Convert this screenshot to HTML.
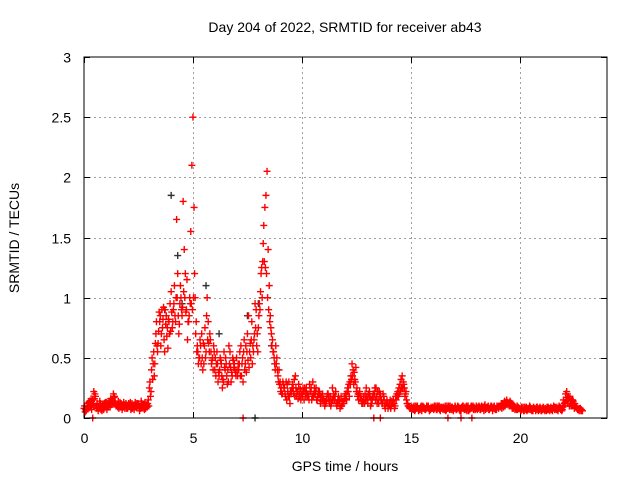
<!DOCTYPE html>
<html><head><meta charset="utf-8"><style>
html,body{margin:0;padding:0;background:#fff;}
svg{display:block;font-family:"Liberation Sans",sans-serif;}
</style></head><body>
<svg id="chart" width="640" height="480" viewBox="0 0 640 480">
<rect width="640" height="480" fill="#fff"/>
<text x="345" y="32" font-size="14" text-anchor="middle">Day 204 of 2022, SRMTID for receiver ab43</text>
<text x="345" y="471" font-size="14" text-anchor="middle">GPS time / hours</text>
<text transform="translate(19,238) rotate(-90)" font-size="14" text-anchor="middle">SRMTID / TECUs</text>
<g id="grid"></g><g id="ticks"></g><g id="marks"></g>
<rect x="84" y="57" width="523" height="361" fill="none" stroke="#000" stroke-width="1"/>
</svg>
<script>
const xTicks=[0,5,10,15,20];
const yTicks=[0,0.5,1,1.5,2,2.5,3];
const yTickLabels=["0","0.5","1","1.5","2","2.5","3"];
const step=0.1;
const redA=[
.08,.06,.10,.09,.15,.20,.12,.08,.10,.07,
.10,.12,.09,.15,.18,.10,.08,.12,.09,.10,
.08,.10,.12,.07,.09,.11,.08,.10,.13,.09,
.25,.40,.55,.70,.62,.85,.75,.55,.68,.80,
1.05,.90,.80,1.20,.95,.85,1.40,.90,.80,1.55,
2.50,1.00,.60,.50,.70,.45,.55,.80,.65,.50,
.40,.55,.35,.45,.30,.50,.40,.55,.35,.45,
.50,.40,.60,.30,.45,.70,.55,.80,.65,.90,
.75,1.05,1.30,1.75,2.05,1.10,.70,.55,.60,.35,
.30,.20,.25,.15,.30,.20,.25,.35,.22,.18,
.20,.15,.25,.18,.22,.30,.20,.15,.22,.18,
.15,.12,.20,.18,.25,.15,.10,.12,.18,.14,
.20,.25,.30,.45,.38,.22,.15,.18,.12,.20,
.15,.22,.12,.18,.25,.15,.20,.12,.10,.15,
.12,.10,.15,.18,.22,.28,.35,.25,.15,.10,
.08,.09,.07,.10,.08,.06,.09,.08,.10,.07,
.09,.08,.07,.10,.08,.09,.06,.08,.10,.09,
.08,.07,.09,.06,.10,.08,.09,.07,.08,.09,
.10,.08,.07,.09,.11,.08,.07,.10,.09,.08,
.09,.10,.12,.14,.15,.12,.10,.08,.09,.07,
.08,.07,.06,.09,.08,.07,.06,.08,.09,.07,
.06,.08,.07,.09,.08,.06,.07,.09,.10,.08,
.15,.20,.12,.18,.10,.08,.09,.07,.06];
const redB=[
.05,.10,.14,.07,.22,.10,.06,.12,.08,.11,
.07,.14,.11,.20,.12,.09,.13,.07,.11,.08,
.12,.07,.09,.13,.10,.06,.12,.08,.10,.15,
.18,.32,.45,.60,.88,.70,.92,.78,.58,.95,
.75,1.10,1.65,.70,1.00,1.80,1.20,.65,1.00,2.10,
1.75,.80,.45,.60,.40,.75,1.00,.55,.45,.60,
.35,.30,.50,.25,.42,.35,.60,.30,.48,.38,
.35,.55,.45,.65,.38,.85,.50,.60,.95,.70,
.95,1.25,1.60,1.85,1.40,.85,.65,.45,.50,.40,
.25,.28,.18,.22,.12,.25,.32,.18,.28,.15,
.25,.22,.18,.28,.15,.20,.25,.22,.12,.20,
.10,.18,.14,.12,.20,.22,.15,.08,.12,.18,
.15,.28,.35,.40,.30,.18,.22,.12,.15,.25,
.20,.10,.18,.25,.12,.22,.15,.18,.12,.08,
.15,.12,.08,.20,.25,.32,.30,.20,.12,.08,
.07,.10,.08,.06,.09,.10,.07,.09,.06,.08,
.07,.10,.09,.06,.08,.07,.10,.09,.07,.06,
.09,.10,.06,.08,.07,.10,.06,.09,.10,.07,
.07,.09,.10,.06,.08,.10,.09,.06,.08,.10,
.10,.12,.09,.13,.11,.14,.08,.10,.07,.08,
.06,.09,.08,.07,.10,.06,.08,.07,.06,.08,
.07,.06,.09,.08,.07,.10,.08,.06,.09,.07,
.12,.22,.16,.10,.14,.09,.07,.08,.06];
const redC=[
.10,.08,.13,.16,.12,.18,.09,.14,.06,.12,
.13,.09,.16,.12,.14,.11,.10,.09,.13,.12,
.10,.13,.08,.11,.12,.09,.14,.11,.08,.12,
.30,.50,.35,.80,.72,.60,.82,.90,.75,.70,
.88,.95,1.00,.85,1.10,.92,1.00,1.15,.85,.95,
1.00,.70,.55,.65,.50,.60,.85,.62,.55,.40,
.50,.45,.40,.35,.55,.45,.30,.42,.50,.40,
.40,.45,.35,.55,.60,.48,.62,.45,.70,.60,
.85,1.20,1.45,1.25,1.00,.80,.60,.50,.45,.30,
.22,.30,.20,.28,.18,.22,.20,.25,.16,.24,
.18,.25,.20,.15,.25,.18,.22,.17,.20,.14,
.12,.15,.18,.10,.15,.18,.12,.15,.10,.12,
.18,.22,.28,.35,.32,.25,.20,.15,.18,.15,
.12,.18,.15,.20,.18,.12,.15,.20,.08,.12,
.10,.14,.12,.15,.18,.22,.25,.18,.12,.09,
.09,.07,.10,.08,.07,.09,.08,.10,.08,.09,
.08,.09,.10,.07,.09,.08,.07,.10,.08,.07,
.10,.08,.07,.09,.08,.07,.10,.08,.09,.08,
.08,.10,.09,.08,.07,.09,.08,.09,.10,.07,
.08,.09,.11,.10,.13,.10,.12,.09,.08,.09,
.07,.08,.09,.06,.07,.08,.09,.06,.07,.09,
.08,.07,.06,.07,.09,.08,.09,.07,.08,.06,
.10,.14,.18,.12,.15,.12,.08,.06,.07];
const redD=[
.07,.12,.09,.11,.16,.08,.10,.07,.09,.13,
.09,.11,.13,.17,.10,.14,.09,.11,.08,.10,
.11,.08,.10,.09,.12,.10,.09,.07,.11,.10,
.22,.45,.62,.55,.80,.90,.65,.85,.82,.72,
.80,.85,1.00,.78,.90,1.05,.88,.80,.95,.90,
1.20,.55,.50,.45,.62,.50,.65,.70,.48,.55,
.45,.38,.48,.32,.40,.28,.45,.38,.42,.35,
.45,.35,.50,.40,.55,.42,.65,.55,.75,.55,
.90,1.00,1.30,1.20,.90,.75,.55,.40,.40,.28,
.20,.25,.30,.18,.22,.28,.18,.22,.20,.20,
.22,.18,.20,.22,.18,.25,.15,.20,.18,.16,
.14,.20,.12,.15,.18,.12,.18,.10,.14,.16,
.22,.18,.32,.28,.42,.20,.18,.14,.12,.18,
.18,.15,.20,.15,.22,.18,.12,.15,.12,.10,
.08,.12,.10,.18,.20,.25,.28,.22,.10,.08,
.08,.06,.09,.07,.10,.08,.07,.09,.07,.08,
.10,.07,.08,.09,.07,.10,.08,.07,.09,.08,
.07,.09,.08,.10,.09,.06,.08,.10,.07,.08,
.09,.07,.08,.10,.09,.07,.10,.08,.07,.09,
.10,.08,.10,.12,.12,.13,.09,.07,.10,.08,
.09,.06,.07,.08,.09,.07,.08,.09,.08,.06,
.09,.08,.07,.06,.08,.09,.07,.08,.07,.09,
.13,.17,.10,.15,.12,.10,.07,.08,.06];
const zeroTimes=[0.4,7.3,13.3,13.6,16.7,17.3,17.8];
const blackTimes=[3.7,4.0,4.3,5.6,7.5,8.0,8.6,7.85,4.5,6.2];
const blackVals=[0.9,1.85,1.35,1.1,0.85,0.95,0.6,0,0.95,0.7];

const X0=84,X1=607,Y0=418,Y1=57;
const xs=t=>X0+t*(X1-X0)/24;
const ys=v=>Y0-v*(Y0-Y1)/3;
const NS="http://www.w3.org/2000/svg";
const grid=document.getElementById('grid'),ticks=document.getElementById('ticks'),marks=document.getElementById('marks');
function ln(p,x1,y1,x2,y2,st,dash){const l=document.createElementNS(NS,'line');l.setAttribute('x1',x1);l.setAttribute('y1',y1);l.setAttribute('x2',x2);l.setAttribute('y2',y2);l.setAttribute('stroke',st);if(dash)l.setAttribute('stroke-dasharray',dash);p.appendChild(l);return l;}
xTicks.forEach(t=>{const x=Math.round(xs(t))+0.5;
 if(t>0){const g=ln(grid,x,Y1,x,Y0,'#a0a0a0','2,3');
 
 }
 ln(ticks,x,Y0,x,Y0-6,'#000');ln(ticks,x,Y1,x,Y1+6,'#000');
 const tx=document.createElementNS(NS,'text');tx.setAttribute('x',x);tx.setAttribute('y',443);tx.setAttribute('font-size','14');tx.setAttribute('text-anchor','middle');tx.textContent=t;
 
 
 ticks.appendChild(tx);});
yTicks.forEach((v,i)=>{const y=Math.round(ys(v))+0.5;
 if(v>0&&v<3){const g=ln(grid,X0,y,X1,y,'#a0a0a0','2,3');
 
 }
 ln(ticks,X0,y,X0+6,y,'#000');ln(ticks,X1,y,X1-6,y,'#000');
 const tx=document.createElementNS(NS,'text');tx.setAttribute('x',71);tx.setAttribute('y',y+5);tx.setAttribute('font-size','14');tx.setAttribute('text-anchor','end');tx.textContent=yTickLabels[i];
 
 
 ticks.appendChild(tx);});
function cross(t,v,col,name){const x=xs(t),y=ys(v);const p=document.createElementNS(NS,'path');
 p.setAttribute('d',`M${x-3.5},${y}H${x+3.5}M${x},${y-3.5}V${y+3.5}`);p.setAttribute('stroke',col);p.setAttribute('stroke-width','1.4');
 
 
 marks.appendChild(p);}
blackVals.forEach((v,i)=>cross(blackTimes[i],v,'#333','black-point'));
redA.forEach((v,i)=>cross(i*step,v,'#ff0000','red-point'));
redB.forEach((v,i)=>cross(i*step+step/2,v,'#ff0000','red-point'));
redC.forEach((v,i)=>cross(i*step+step/4,v,'#ff0000','red-point'));
redD.forEach((v,i)=>cross(i*step+3*step/4,v,'#ff0000','red-point'));
zeroTimes.forEach(t=>cross(t,0,'#ff0000','red-point-zero'));
</script>
</body></html>
